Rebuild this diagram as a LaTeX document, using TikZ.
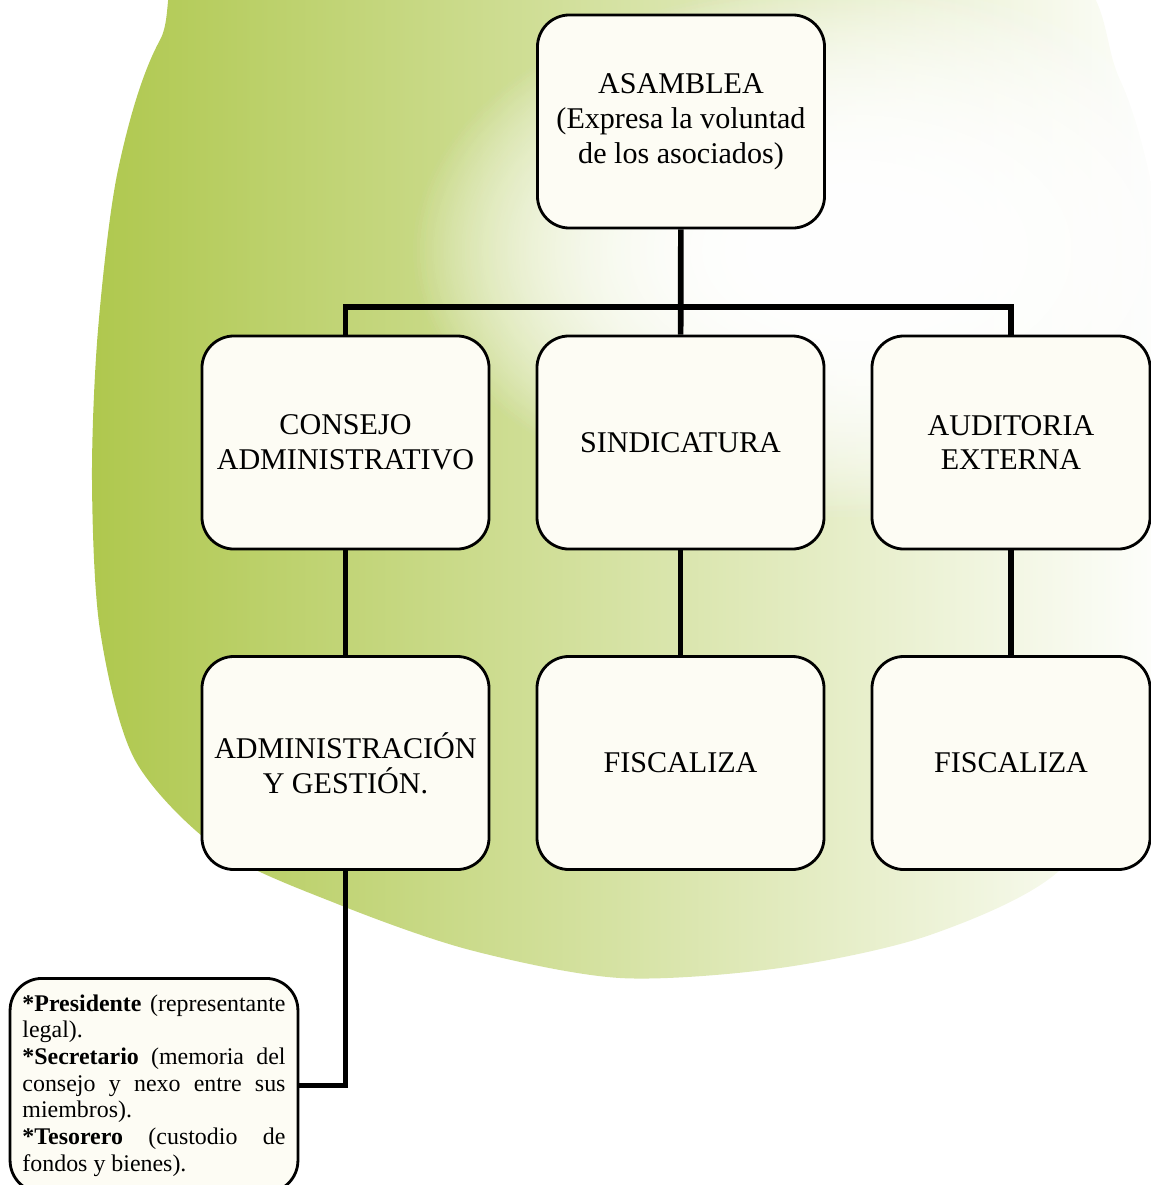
\documentclass[tikz,border=0pt]{standalone}
\usepackage{fontspec}
\setmainfont{Liberation Serif}
\usetikzlibrary{fadings}
\hyphenpenalty=10000
\definecolor{blobdark}{RGB}{174,199,76}
\definecolor{blobmid}{RGB}{190,213,100}
\definecolor{boxfill}{RGB}{253,252,244}
\tikzfading[name=glowfade, inner color=transparent!0, outer color=transparent!100]

\begin{document}
\begin{tikzpicture}[x=0.025cm,y=-0.025cm,
    box/.style={draw, line width=2pt, rounded corners=0.8cm, fill=boxfill,
        minimum width=7.175cm, minimum height=5.325cm, inner sep=0pt,
        align=center, font=\fontsize{21.4pt}{24.8pt}\selectfont},
    cargobox/.style={draw, line width=2pt, rounded corners=0.8cm, fill=boxfill,
        text width=6.575cm, inner xsep=0.31cm, inner ysep=0.4cm,
        align=justify, font=\fontsize{17pt}{19pt}\selectfont},
    conn/.style={line width=4pt}]
    \useasboundingbox (0,0) rectangle (1151,1185);
    % green blob behind the chart
    \begin{scope}
        \clip plot[smooth cycle] coordinates {(260,-90) (160,40) (118,170) (98,330) (92,480)
            (100,630) (135,760) (220,850) (340,905) (470,950) (620,978) (780,968)
            (930,935) (1060,870) (1140,740) (1170,560) (1170,300) (1120,80) (1000,-60)};
        \shade[left color=blobdark, middle color=blobmid, right color=white] (80,-50) rectangle (1180,1000);
        \foreach \k in {1,2,3}
            \fill[white, path fading=glowfade] (850,250) ellipse (440 and 270);
    \end{scope}

    \node[box] (asamblea) at (681,121.5) {ASAMBLEA\\(Expresa la voluntad\\de los asociados)};
    \node[box] (consejo) at (345.5,442.5) {CONSEJO\\ADMINISTRATIVO};
    \node[box] (sindicatura) at (680.5,442.5) {SINDICATURA};
    \node[box, minimum width=6.95cm] (auditoria) at (1011,442.5) {AUDITORIA\\EXTERNA};
    \node[box] (admin) at (345.5,763) {ADMINISTRACIÓN\\Y GESTIÓN.};
    \node[box] (fiscsind) at (680.5,763) {FISCALIZA};
    \node[box, minimum width=6.95cm] (fiscaud) at (1011,763) {FISCALIZA};
    \node[cargobox, anchor=north] (cargos) at (154,977) {\textbf{*Presidente} (representante\linebreak
        legal).\\\textbf{*Secretario} (memoria del\linebreak consejo y nexo entre sus\linebreak
        miembros).\\\textbf{*Tesorero} (custodio de\linebreak fondos y bienes).};

    \coordinate (bus) at (681,307);
    \draw[conn] (asamblea) -- (sindicatura);
    \draw[conn] (consejo.north) -- (consejo.north |- bus) -- (auditoria.north |- bus) -- (auditoria.north);
    \draw[conn] (consejo) -- (admin);
    \draw[conn] (sindicatura) -- (fiscsind);
    \draw[conn] (auditoria) -- (fiscaud);
    \draw[conn] (admin.south) |- (cargos.east);
\end{tikzpicture}
\end{document}
